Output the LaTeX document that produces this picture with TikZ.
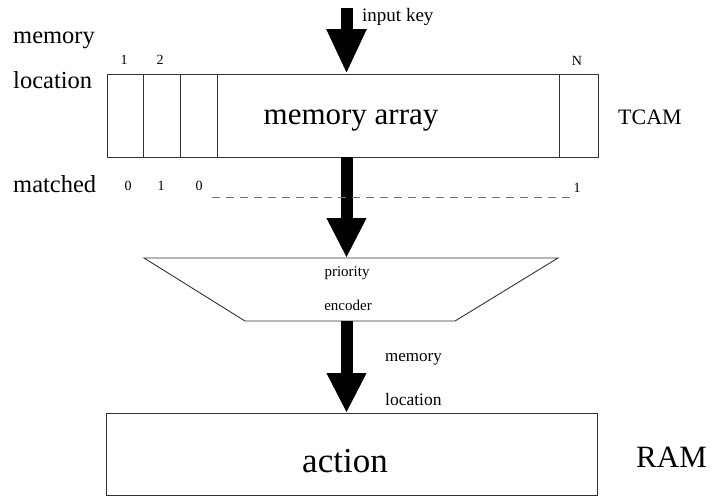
\documentclass[tikz,border=0pt]{standalone}
\usepackage{fontspec}
\setmainfont{Liberation Serif}
\usetikzlibrary{arrows.meta}

\begin{document}
\begin{tikzpicture}[x=1pt,y=-1pt,
  outline/.style={draw=black!80, line width=0.9pt},
  box/.style={outline, rectangle, inner sep=0pt, outer sep=0pt},
  frame/.style={rectangle, inner sep=0pt, outer sep=0pt},
  bigarrow/.style={line width=12pt, black, -{Triangle[width=37pt,length=40pt]}},
  sidelbl/.style={anchor=west, inner sep=0pt, font=\fontsize{24.5}{24.5}\selectfont},
  idx/.style={inner sep=0pt, font=\fontsize{14}{14}\selectfont},
  small/.style={inner sep=0pt, font=\fontsize{17}{17}\selectfont},
  matchline/.style={draw=black!55, line width=0.9pt, dash pattern=on 8pt off 6pt}]

\useasboundingbox (0,0) rectangle (712,499);

% TCAM memory array with its location columns
\node[box, minimum width=491pt, minimum height=83pt] (mem) at (352.5,115.5) {};
\node[inner sep=0pt, font=\fontsize{31}{31}\selectfont] (memtxt) at (351,121) {memory array};
\foreach \x in {143,180,217,559}
  \draw[outline] (\x,74) -- (\x,157);

% priority encoder: a trapezoid, wide side on top
\node[frame, minimum width=414pt, minimum height=63pt] (enc) at (351,289.5) {};
\draw[outline, line join=miter]
  (enc.north west) -- (enc.north east)
  -- ([xshift=-103pt]enc.south east) -- ([xshift=101pt]enc.south west) -- cycle;
\node[small, font=\fontsize{15}{15}\selectfont] (encA) at (347,273) {priority};
\node[small, font=\fontsize{15}{15}\selectfont] (encB) at (348,305) {encoder};

% RAM action table
\node[box, minimum width=491pt, minimum height=82pt] (act) at (351.5,454) {};
\node[inner sep=0pt, font=\fontsize{35}{35}\selectfont] (acttxt) at (345,461) {action};

% flow arrows
\coordinate (key) at (346.5,8);
\draw[bigarrow, -{Triangle[width=37pt,length=45pt]}] (key) -- (key |- mem.north);
\draw[bigarrow] (key |- mem.south) -- (key |- enc.north);
\draw[bigarrow] (key |- enc.south) -- (key |- act.north);

% labels
\node[small, anchor=west, font=\fontsize{19}{19}\selectfont] (keylbl) at (362,17) {input key};
\node[sidelbl] (locA) at (13,40) {memory};
\node[sidelbl] (locB) at (13,80) {location};
\node[sidelbl] (mat) at (13,184) {matched};
\node[idx] (i1) at (124,60) {1};
\node[idx] (i2) at (160,60) {2};
\node[idx] (iN) at (577,61) {N};
\node[idx] (m1) at (128,186) {0};
\node[idx] (m2) at (161,186) {1};
\node[idx] (m3) at (199,186) {0};
\node[idx] (mN) at (577,188) {1};
\draw[matchline] (212,197) -- (571,197);

\node[sidelbl, font=\fontsize{22}{22}\selectfont] (tcam) at (618,117) {TCAM};
\node[sidelbl, font=\fontsize{31}{31}\selectfont] (ram) at (636,457) {RAM};
\node[small, anchor=west] (outA) at (385,359) {memory};
\node[small, anchor=west, font=\fontsize{17.5}{17.5}\selectfont] (outB) at (385,400) {location};

\end{tikzpicture}
\end{document}
